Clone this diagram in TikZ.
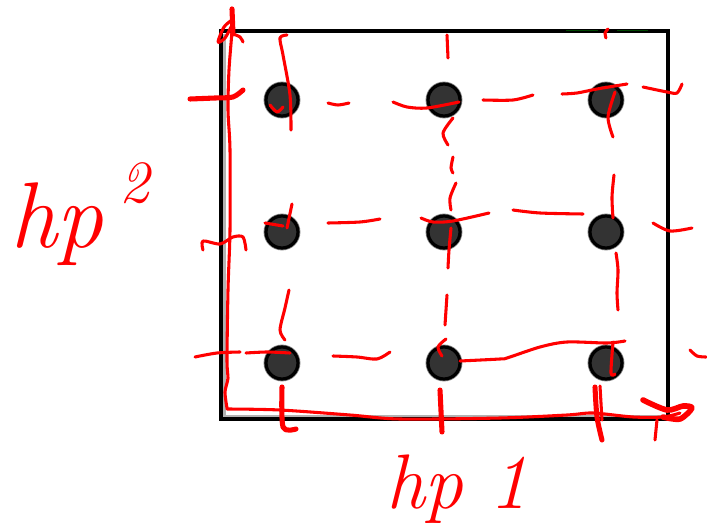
\documentclass[tikz,border=0pt]{standalone}
\begin{document}
\begin{tikzpicture}[x=0.75pt,y=-0.75pt,
  ink/.style={red, line width=2.3pt, line cap=round, line join=round},
  heavy/.style={ink, line width=3.8pt},
  gridpt/.style={circle, inner sep=0pt, minimum size=24pt, fill=black!80,
    draw=black, line width=2.4pt,
    preaction={draw=black!50, line width=3.6pt}},
  hand/.style={text=red, inner sep=0pt, font=\itshape}]
\useasboundingbox (0,0) rectangle (707,527);

% frame of the search space
\draw[black!30, line width=2pt] (224.5,34) -- (224.5,416.5) -- (666,416.5);
\draw[black, line width=3pt] (221,31) rectangle (668,419);
\draw[black!60!green!70!black, line width=1.2pt] (566,30.5) -- (598,30.5) (617,30.5) -- (648,30.5);

% grid of sampled points
\foreach \c/\x in {1/282,2/444,3/606}{
  \foreach \r/\y in {1/100,2/232,3/363}{
    \node[gridpt] (p\c\r) at (\x,\y) {};
  }
}

% hand-drawn vertical axis with its arrow
\draw[ink] plot[smooth] coordinates {(232,8) (232,30) (229,70) (228,110) (230,150) (230,230) (228,290) (227,360) (228,378) (225,392) (227,408)};
\draw[heavy] (232,9) -- (233,34);
\draw[ink] plot[smooth] coordinates {(232,20) (224,27) (218,42) (225,38) (232,25)};
\draw[ink] plot[smooth] coordinates {(233,34) (240,37) (243,42)};

% ticks on the vertical axis
\draw[heavy] plot[smooth] coordinates {(190,99) (215,98) (233,97) (243,90)};
\draw[ink] plot[smooth] coordinates {(203,250) (203,241) (220,244) (233,237) (243,237) (246,250)};
\draw[ink] plot[smooth] coordinates {(195,357) (217,353) (240,352)};

% hand-drawn horizontal axis with its arrow
\draw[ink] plot[smooth] coordinates {(227,409) (280,410) (350,415) (400,419) (500,418) (567,415) (593,413) (633,417) (663,417) (680,413)};
\draw[ink, line width=4.2pt] plot[smooth] coordinates {(643,400) (667,410) (683,406) (692,408) (680,419) (663,417)};

% ticks on the horizontal axis
\draw[heavy] plot[smooth] coordinates {(282,387) (283,427) (296,429)};
\draw[heavy] (440,390) -- (442,432);
\draw[heavy] plot[smooth] coordinates {(595,387) (597,417) (602,440)};
\draw[ink] (600,386) -- (602,420);
\draw[ink] (657,420) -- (655,440);

% dashed guide lines through the first column
\draw[ink] plot[smooth] coordinates {(287,35) (280,38) (283,55) (290,95) (291,130)};
\draw[ink] (292,204) -- (287,228);
\draw[ink] plot[smooth] coordinates {(289,290) (285,308) (280,330) (285,340)};

% dashed guide lines through the second column
\draw[ink] (447,35) -- (448,58);
\draw[ink] plot[smooth] coordinates {(453,118) (443,133) (448,145)};
\draw[ink] plot[smooth] coordinates {(453,157) (451,168) (453,173)};
\draw[ink] plot[smooth] coordinates {(456,183) (450,198) (451,210)};
\draw[ink] plot[smooth] coordinates {(451,228) (449,250) (448,268)};
\draw[ink] (447,295) -- (445,325);
\draw[ink] plot[smooth] coordinates {(446,339) (438,347) (442,356)};

% dashed guide lines through the third column
\draw[ink] plot[smooth] coordinates {(608,29) (605,33) (606,38)};
\draw[ink] plot[smooth] coordinates {(615,92) (608,117) (613,137)};
\draw[ink] plot[smooth] coordinates {(614,175) (612,197) (613,218)};
\draw[ink] plot[smooth] coordinates {(616,253) (618,270) (617,293) (618,310)};
\draw[ink] plot[smooth] coordinates {(613,342) (611,373) (615,374)};

% dashed guide lines through the first row
\draw[ink] plot[smooth] coordinates {(270,105) (277,112) (283,107)};
\draw[ink] plot[smooth] coordinates {(328,103) (338,105) (349,103)};
\draw[ink] plot[smooth] coordinates {(393,102) (407,107) (427,108) (459,102)};
\draw[ink] plot[smooth] coordinates {(483,100) (513,100) (533,95)};
\draw[ink] plot[smooth] coordinates {(562,94) (577,93) (597,89) (627,84)};
\draw[ink] plot[smooth] coordinates {(643,87) (667,92) (677,93) (682,84)};

% dashed guide lines through the second row
\draw[ink] (265,223) -- (283,226);
\draw[ink] plot[smooth] coordinates {(328,223) (360,222) (380,219)};
\draw[ink] plot[smooth] coordinates {(421,218) (433,222) (453,221) (489,213)};
\draw[ink] plot[smooth] coordinates {(513,210) (540,213) (583,214)};
\draw[ink] plot[smooth] coordinates {(653,223) (670,231) (692,228)};

% dashed guide lines through the third row
\draw[ink] plot[smooth] coordinates {(246,353) (267,352) (290,353)};
\draw[ink] plot[smooth] coordinates {(333,356) (357,357) (377,359) (390,352)};
\draw[ink] plot[smooth] coordinates {(460,361) (500,359) (507,358) (540,347) (567,342) (607,343) (625,341)};
\draw[ink] plot[smooth] coordinates {(690,350) (697,356) (706,357)};

% axis labels
\node[hand, anchor=base west, font=\itshape\fontsize{70}{70}\selectfont] (lab2) at (10,248)
  {hp\,\raisebox{34pt}{\fontsize{45}{45}\selectfont 2}};
\node[hand, anchor=base west, font=\itshape\fontsize{58}{58}\selectfont] (lab1) at (386,508) {hp\,\,1};
\end{tikzpicture}
\end{document}
